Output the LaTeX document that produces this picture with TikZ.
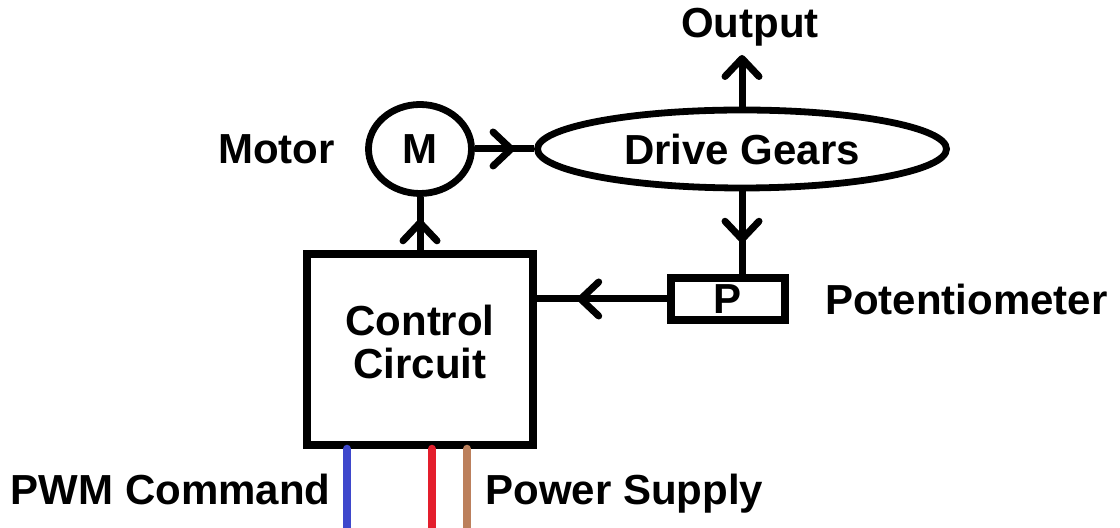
\documentclass[tikz,border=0pt]{standalone}
\usepackage{fontspec}
\setmainfont{Liberation Sans}
\usetikzlibrary{shapes.geometric,arrows.meta,positioning,decorations.markings}

\definecolor{wireblue}{RGB}{62,72,204}
\definecolor{wirered}{RGB}{228,30,44}
\definecolor{wirebrown}{RGB}{188,128,92}

\begin{document}
\begin{tikzpicture}[
  x=0.5pt, y=-0.5pt,
  chev/.tip={Straight Barb[length=9pt,width=17pt,round]},
  block/.style={draw, line width=3.75pt, align=center, inner sep=0pt,
                font=\fontsize{21}{21.5}\selectfont\bfseries},
  oval/.style={block, ellipse, line width=3.4pt},
  lbl/.style={inner sep=0pt, font=\fontsize{21}{21.5}\selectfont\bfseries},
  link/.style={line width=3.5pt},
  midarr/.style={postaction={decorate,
                 decoration={markings, mark=at position #1 with {\arrow{chev}}}}},
  wire/.style={line width=4pt, line cap=round}
]
\useasboundingbox (0,0) rectangle (1120,528);

\node[oval, minimum width=51.5pt, minimum height=44.5pt] (motor) at (420,149) {M};
\node[oval, minimum width=204.5pt, minimum height=39pt] (gears) at (742,149) {Drive Gears};
\node[block, minimum width=57pt, minimum height=21pt] (pot) at (728,299) {P};
\node[block, minimum width=113pt, minimum height=95.5pt] (ctrl) at (420,349.5) {Control\\Circuit\\[-14pt]};

\coordinate (outtip) at (742,55);
\coordinate (pwmend) at (347,528);
\coordinate (pwrred) at (432,528);
\coordinate (pwrbrown) at (467,528);

\node[lbl, left=15pt of motor] (motorlbl) {Motor};
\node[lbl, above=4pt of outtip, xshift=4pt] (outlbl) {Output};
\node[lbl, right=18pt of pot] (potlbl) {Potentiometer};
\node[lbl, anchor=base east] (pwmlbl) at (331,505) {PWM Command};
\node[lbl, anchor=base west] (pwrlbl) at (485,505) {Power Supply};

\draw[link, midarr=0.67] (motor) -- (gears);
\draw[link, -{chev}] (gears) -- (outtip);
\draw[link, midarr=0.62] (gears) -- (gears |- pot.north);
\draw[link, midarr=0.69] (pot.west) -- (pot.west -| ctrl.east);
\draw[link, midarr=0.58] (ctrl) -- (motor);

\draw[wire, wireblue] (ctrl.south -| pwmend) -- (pwmend);
\draw[wire, wirered] (ctrl.south -| pwrred) -- (pwrred);
\draw[wire, wirebrown] (ctrl.south -| pwrbrown) -- (pwrbrown);
\end{tikzpicture}
\end{document}
